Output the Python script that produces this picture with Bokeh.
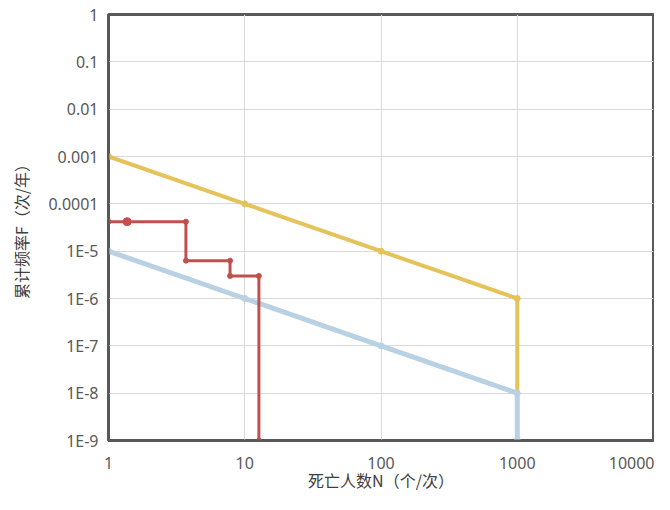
from bokeh.plotting import figure
from bokeh.models import FixedTicker, CustomJSTickFormatter, Range1d
from bokeh.embed import file_html
from bokeh.resources import INLINE

# ---- data ----
x_ticks = [1, 10, 100, 1000, 10000]
x_tick_labels = ["1", "10", "100", "1000", "10000"]
y_ticks = [1e-9, 1e-8, 1e-7, 1e-6, 1e-5, 1e-4, 1e-3, 1e-2, 1e-1, 1]
y_tick_labels = ["1E-9", "1E-8", "1E-7", "1E-6", "1E-5", "0.0001", "0.001", "0.01", "0.1", "1"]

upper_n = [1, 10, 100, 1000, 1000]
upper_f = [1e-3, 1e-4, 1e-5, 1e-6, 1e-9]

lower_n = [1, 10, 100, 1000, 1000]
lower_f = [1e-5, 1e-6, 1e-7, 1e-8, 1e-9]

risk_n = [1, 1.37, 3.7, 3.7, 7.8, 7.8, 12.7, 12.7]
risk_f = [4.2e-5, 4.2e-5, 4.2e-5, 6.3e-6, 6.3e-6, 3.0e-6, 3.0e-6, 1e-9]

x_title = "死亡人数N（个/次）"
y_title = "累计频率F（次/年）"

# ---- figure ----
p = figure(width=654, height=494, x_axis_type="log", y_axis_type="log",
           x_range=Range1d(1, 10000), y_range=Range1d(1e-9, 1),
           output_backend="svg", toolbar_location=None,
           min_border_left=108, min_border_right=1, min_border_top=14, min_border_bottom=53)

p.background_fill_color = "white"
p.border_fill_color = "white"
p.outline_line_color = "#595959"
p.outline_line_width = 3

def fmt(vals, labs):
    return CustomJSTickFormatter(args=dict(vals=vals, labs=labs), code="""
        for (let i = 0; i < vals.length; i++) {
            if (Math.abs(Math.log10(tick) - Math.log10(vals[i])) < 1e-6) return labs[i];
        }
        return "";
    """)

p.xaxis.ticker = FixedTicker(ticks=x_ticks, minor_ticks=[])
p.yaxis.ticker = FixedTicker(ticks=y_ticks, minor_ticks=[])
p.xaxis.formatter = fmt(x_ticks, x_tick_labels)
p.yaxis.formatter = fmt(y_ticks, y_tick_labels)

for ax in (p.xaxis, p.yaxis):
    ax.major_tick_line_color = None
    ax.minor_tick_line_color = None
    ax.axis_line_color = "#595959"
    ax.axis_line_width = 2
    ax.major_label_text_font = "Noto Sans"
    ax.major_label_text_font_size = "16px"
    ax.major_label_text_color = "#595959"
    ax.axis_label_text_font = "Noto Sans CJK SC"
    ax.axis_label_text_font_size = "16px"
    ax.axis_label_text_font_style = "normal"
    ax.axis_label_text_color = "#404040"

p.xaxis.axis_label = x_title
p.yaxis.axis_label = y_title
p.xaxis.major_label_standoff = 10
p.xaxis.axis_label_standoff = -4
p.yaxis.major_label_standoff = 4
p.yaxis.axis_label_standoff = 12

p.xgrid.grid_line_color = "#d9d9d9"
p.ygrid.grid_line_color = "#d9d9d9"
p.xgrid.grid_line_width = 1
p.ygrid.grid_line_width = 1

yellow = "#E5C35A"
blue = "#B8D2E3"
red = "#C0504D"

p.line(upper_n, upper_f, line_color=yellow, line_width=4)
p.scatter(upper_n[:4], upper_f[:4], size=6, fill_color=yellow, line_color=yellow)

p.line(lower_n, lower_f, line_color=blue, line_width=5)
p.scatter(lower_n, lower_f, size=6, fill_color=blue, line_color=blue)

p.line(risk_n, risk_f, line_color=red, line_width=3)
p.scatter(risk_n, risk_f, size=5, fill_color=red, line_color=red)
p.scatter(risk_n[1:2], risk_f[1:2], size=8, fill_color=red, line_color=red)

open("out.html", "w").write(file_html(p, INLINE))
